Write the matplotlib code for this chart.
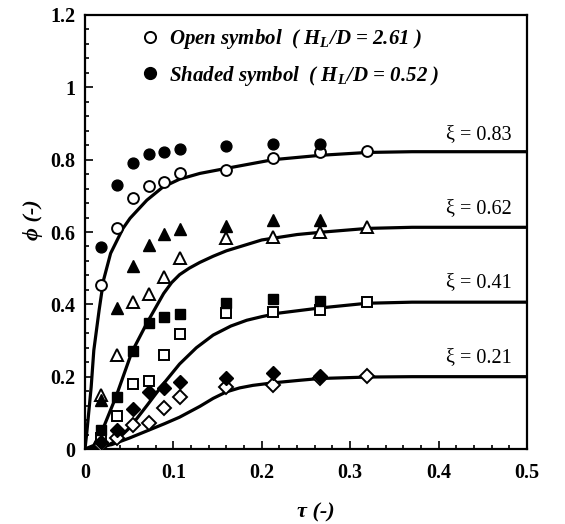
import matplotlib
matplotlib.use("Agg")
import matplotlib.pyplot as plt
from matplotlib.lines import Line2D
from matplotlib.ticker import MultipleLocator

plt.rcParams['font.family'] = ['Liberation Serif', 'DejaVu Serif']
plt.rcParams['mathtext.fontset'] = 'custom'
plt.rcParams['mathtext.rm'] = 'Liberation Serif'
plt.rcParams['mathtext.it'] = 'Liberation Serif:italic'
plt.rcParams['mathtext.bf'] = 'Liberation Serif:bold'
plt.rcParams['mathtext.bfit'] = 'Liberation Serif:italic:bold'

# ---- data ----
tau_pts = [0.018, 0.036, 0.054, 0.072, 0.089, 0.107, 0.16, 0.213, 0.266, 0.319]

# xi = 0.83 (circles)
circ_open = [0.453, 0.61, 0.693, 0.727, 0.738, 0.762, 0.771, 0.804, 0.82, 0.823]
circ_fill = [0.558, 0.729, 0.79, 0.815, 0.82, 0.829, 0.837, 0.843, 0.843]
# xi = 0.62 (triangles)
tri_open = [0.149, 0.26, 0.406, 0.428, 0.475, 0.528, 0.583, 0.586, 0.60, 0.613]
tri_fill = [0.135, 0.39, 0.506, 0.563, 0.594, 0.608, 0.616, 0.633, 0.633]
# xi = 0.41 (squares)
sq_open = [0.03, 0.091, 0.18, 0.188, 0.26, 0.318, 0.376, 0.378, 0.384, 0.406]
sq_fill = [0.053, 0.145, 0.272, 0.348, 0.366, 0.373, 0.403, 0.414, 0.409]
# xi = 0.21 (diamonds)
dia_open = [0.01, 0.03, 0.066, 0.072, 0.113, 0.144, 0.171, 0.177, 0.196, 0.202]
dia_fill = [0.02, 0.052, 0.11, 0.157, 0.168, 0.185, 0.196, 0.21, 0.202]

# model curves
c83_tau = [0, 0.002, 0.007, 0.010, 0.016, 0.021, 0.029, 0.043, 0.051, 0.07, 0.088,
           0.107, 0.13, 0.16, 0.213, 0.266, 0.32, 0.37, 0.5]
c83_phi = [0, 0.044, 0.171, 0.273, 0.384, 0.467, 0.541, 0.61, 0.638, 0.688, 0.724,
           0.746, 0.762, 0.776, 0.80, 0.812, 0.82, 0.822, 0.822]
c62_tau = [0, 0.01, 0.021, 0.035, 0.053, 0.07, 0.089, 0.098, 0.107, 0.118, 0.13,
           0.145, 0.16, 0.2, 0.24, 0.27, 0.32, 0.37, 0.5]
c62_phi = [0, 0.01, 0.06, 0.144, 0.268, 0.348, 0.43, 0.46, 0.482, 0.50, 0.516,
           0.533, 0.548, 0.578, 0.593, 0.60, 0.61, 0.613, 0.613]
c41_tau = [0, 0.02, 0.035, 0.051, 0.07, 0.088, 0.107, 0.126, 0.145, 0.165, 0.183,
           0.2, 0.22, 0.266, 0.319, 0.37, 0.5]
c41_phi = [0, 0.003, 0.022, 0.06, 0.12, 0.178, 0.235, 0.28, 0.315, 0.34, 0.356,
           0.366, 0.376, 0.39, 0.403, 0.406, 0.406]
c21_tau = [0, 0.03, 0.05, 0.07, 0.09, 0.107, 0.13, 0.145, 0.16, 0.175, 0.19, 0.213,
           0.243, 0.266, 0.32, 0.37, 0.5]
c21_phi = [0, 0.012, 0.03, 0.05, 0.07, 0.088, 0.118, 0.14, 0.158, 0.169, 0.176, 0.183,
           0.19, 0.195, 0.199, 0.2, 0.2]

xi_labels = ["ξ = 0.83", "ξ = 0.62", "ξ = 0.41", "ξ = 0.21"]
xi_label_y = [0.87, 0.666, 0.459, 0.254]
xi_label_x = 0.446

x_ticks = [0, 0.1, 0.2, 0.3, 0.4, 0.5]
y_ticks = [0, 0.2, 0.4, 0.6, 0.8, 1.0, 1.2]
x_ticklabels = ["0", "0.1", "0.2", "0.3", "0.4", "0.5"]
y_ticklabels = ["0", "0.2", "0.4", "0.6", "0.8", "1", "1.2"]

# ---- figure ----
fig = plt.figure(figsize=(5.65, 5.24), dpi=100)
ax = fig.add_axes([0.1504, 0.1431, 0.7823, 0.8283])

lw = 2.3
for t, p in [(c83_tau, c83_phi), (c62_tau, c62_phi), (c41_tau, c41_phi), (c21_tau, c21_phi)]:
    ax.plot(t, p, color='black', lw=lw, solid_capstyle='butt', solid_joinstyle='round', zorder=2)

sets = [('o', circ_open, circ_fill, 7.8),
        ('^', tri_open, tri_fill, 8.8),
        ('s', sq_open, sq_fill, 6.8),
        ('D', dia_open, dia_fill, 6.8)]
for m, op, fi, ms in sets:
    ax.plot(tau_pts[:len(op)], op, ls='none', marker=m, ms=ms, mfc='white',
            mec='black', mew=1.4, zorder=3)
    ax.plot(tau_pts[:len(fi)], fi, ls='none', marker=m, ms=ms, mfc='black',
            mec='black', mew=1.0, zorder=4)

for lab, yy in zip(xi_labels, xi_label_y):
    ax.text(xi_label_x, yy, lab, ha='center', va='center', fontsize=14.5)

ax.set_xlim(0, 0.5)
ax.set_ylim(0, 1.2)
ax.set_xticks(x_ticks)
ax.set_xticklabels(x_ticklabels)
ax.set_yticks(y_ticks)
ax.set_yticklabels(y_ticklabels)
ax.xaxis.set_minor_locator(MultipleLocator(0.02))
ax.yaxis.set_minor_locator(MultipleLocator(0.04))
ax.tick_params(which='both', direction='in', top=False, right=False, width=1.2)
ax.tick_params(which='major', length=6, labelsize=14.5)
ax.tick_params(axis='x', which='major', pad=10)
ax.tick_params(axis='y', which='major', pad=7)
ax.tick_params(which='minor', length=3)
for lbl in ax.get_xticklabels() + ax.get_yticklabels():
    lbl.set_fontweight('bold')
for s in ax.spines.values():
    s.set_linewidth(1.6)

ax.set_xlabel("τ (-)", fontsize=16, fontweight='bold', fontstyle='italic', labelpad=14)
ax.set_ylabel("ϕ (-)", fontsize=16, fontweight='bold', fontstyle='italic', labelpad=5)
ax.xaxis.label.set_x(0.523)
ax.yaxis.label.set_y(0.528)

handles = [Line2D([], [], ls='none', marker='o', ms=8, mfc='white', mec='black', mew=1.4),
           Line2D([], [], ls='none', marker='o', ms=8.5, mfc='black', mec='black')]
labels = [r"Open symbol  ( H$_{\mathbfit{L}}$/D = 2.61 )",
          r"Shaded symbol  ( H$_{\mathbfit{L}}$/D = 0.52 )"]
leg = ax.legend(handles, labels, loc='upper left', bbox_to_anchor=(0.08, 1.015),
                frameon=False, handlelength=1.0, handletextpad=0.45,
                labelspacing=0.6,
                prop={'family': 'Liberation Serif', 'weight': 'bold',
                      'style': 'italic', 'size': 15})

fig.savefig("out.png", dpi=100)
